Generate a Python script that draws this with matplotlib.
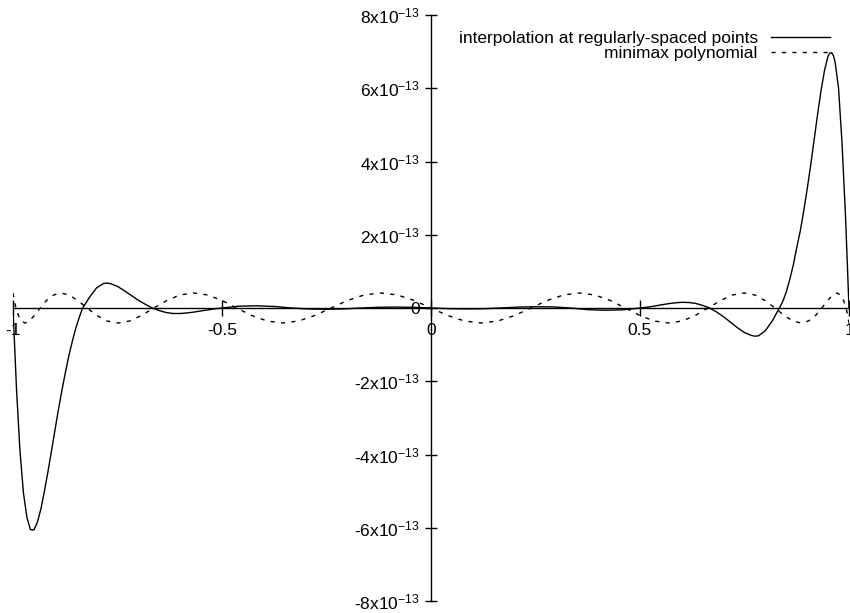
import matplotlib
matplotlib.use('Agg')
import matplotlib.pyplot as plt
import numpy as np

plt.rcParams['font.family'] = ['Liberation Sans', 'DejaVu Sans']
plt.rcParams['mathtext.fontset'] = 'custom'
plt.rcParams['mathtext.rm'] = 'Liberation Sans'
plt.rcParams['mathtext.it'] = 'Liberation Sans:italic'
plt.rcParams['mathtext.default'] = 'regular'
plt.rcParams['axes.unicode_minus'] = False

# error of interpolation at regularly-spaced points (units of 1e-13)
x_interp = [-1.0, -0.99167, -0.98333, -0.975, -0.96667, -0.95833, -0.95, -0.94167, -0.93333, -0.925,
            -0.91667, -0.90833, -0.9, -0.89167, -0.88333, -0.875, -0.86667, -0.85833, -0.85, -0.84167,
            -0.83333, -0.81667, -0.8, -0.78333, -0.775, -0.76667, -0.75, -0.73333, -0.71667, -0.7,
            -0.68333, -0.66667, -0.65, -0.63333, -0.61667, -0.6, -0.58333, -0.56667, -0.55, -0.53333,
            -0.51667, -0.5, -0.45833, -0.41667, -0.375, -0.33333, -0.29167, -0.25, -0.20833, -0.16667,
            -0.125, -0.08333, -0.04167, 0.0, 0.04167, 0.08333, 0.125, 0.16667, 0.20833, 0.25,
            0.29167, 0.33333, 0.375, 0.41667, 0.45833, 0.5, 0.51667, 0.53333, 0.55, 0.56667,
            0.58333, 0.6, 0.61667, 0.63333, 0.65, 0.66667, 0.68333, 0.7, 0.71667, 0.73333,
            0.75, 0.76667, 0.775, 0.78333, 0.8, 0.81667, 0.83333, 0.84167, 0.85, 0.85833,
            0.86667, 0.875, 0.88333, 0.89167, 0.9, 0.90833, 0.91667, 0.925, 0.93333, 0.94167,
            0.95, 0.95417, 0.95833, 0.9625, 0.96667, 0.975, 0.98333, 0.99167, 1.0]
y_interp = [0.0, -2.2, -3.9, -5.05, -5.72, -6.05, -6.06, -5.85, -5.49, -5.01,
            -4.49, -3.93, -3.36, -2.80, -2.27, -1.78, -1.32, -0.92, -0.56, -0.26,
            0.0, 0.30, 0.55, 0.67, 0.68, 0.665, 0.59, 0.47, 0.34, 0.21,
            0.10, 0.0, -0.07, -0.125, -0.15, -0.15, -0.135, -0.11, -0.08, -0.05,
            -0.022, 0.0, 0.05, 0.06, 0.042, 0.0, -0.028, -0.035, -0.025, 0.0,
            0.02, 0.025, 0.018, 0.0, -0.018, -0.025, -0.02, 0.0, 0.025, 0.035,
            0.03, 0.0, -0.045, -0.062, -0.05, 0.0, 0.022, 0.05, 0.085, 0.115,
            0.14, 0.155, 0.15, 0.125, 0.07, 0.0, -0.11, -0.24, -0.39, -0.54,
            -0.67, -0.75, -0.77, -0.76, -0.62, -0.35, 0.0, 0.18, 0.44, 0.78,
            1.17, 1.65, 2.1, 2.65, 3.25, 3.9, 4.6, 5.3, 5.95, 6.5,
            6.88, 6.96, 6.97, 6.9, 6.72, 6.0, 4.5, 2.5, 0.0]

# error of the minimax polynomial (units of 1e-13)
x_minimax = [-1.000, -0.999, -0.997, -0.993, -0.987, -0.980, -0.971, -0.961, -0.949, -0.935,
             -0.920, -0.903, -0.885, -0.866, -0.845, -0.823, -0.799, -0.775, -0.749, -0.721,
             -0.693, -0.663, -0.632, -0.601, -0.568, -0.534, -0.500, -0.465, -0.429, -0.392,
             -0.355, -0.317, -0.278, -0.239, -0.200, -0.160, -0.121, -0.080, -0.040, 0.000,
             0.040, 0.080, 0.121, 0.160, 0.200, 0.239, 0.278, 0.317, 0.355, 0.392,
             0.429, 0.465, 0.500, 0.534, 0.568, 0.601, 0.632, 0.663, 0.693, 0.721,
             0.749, 0.775, 0.799, 0.823, 0.845, 0.866, 0.885, 0.903, 0.920, 0.935,
             0.949, 0.961, 0.971, 0.980, 0.987, 0.993, 0.997, 0.999, 1.000]
y_minimax = [0.41, 0.355, 0.205, 0.0, -0.205, -0.355, -0.41, -0.355, -0.205, 0.0, 0.205, 0.355,
             0.41, 0.355, 0.205, 0.0, -0.205, -0.355, -0.41, -0.355, -0.205, 0.0, 0.205, 0.355,
             0.41, 0.355, 0.205, 0.0, -0.205, -0.355, -0.41, -0.355, -0.205, 0.0, 0.205, 0.355,
             0.41, 0.355, 0.205, 0.0, -0.205, -0.355, -0.41, -0.355, -0.205, 0.0, 0.205, 0.355,
             0.41, 0.355, 0.205, 0.0, -0.205, -0.355, -0.41, -0.355, -0.205, 0.0, 0.205, 0.355,
             0.41, 0.355, 0.205, 0.0, -0.205, -0.355, -0.41, -0.355, -0.205, 0.0, 0.205, 0.355,
             0.41, 0.355, 0.205, 0.0, -0.205, -0.355, -0.41]

xticks = [-1, -0.5, 0, 0.5, 1]
xticklabels = ['-1', '-0.5', '0', '0.5', '1']
yticks = [-8, -6, -4, -2, 0, 2, 4, 6, 8]
yticklabels = ['-8x10$^{-13}$', '-6x10$^{-13}$', '-4x10$^{-13}$', '-2x10$^{-13}$', '0',
               '2x10$^{-13}$', '4x10$^{-13}$', '6x10$^{-13}$', '8x10$^{-13}$']

fig = plt.figure(figsize=(8.5, 6.13), dpi=100)
ax = fig.add_axes([13 / 850, 12 / 613, 836 / 850, 586 / 613])

scale = 1e-13
ax.plot(x_interp, np.array(y_interp) * scale, color='black', lw=1.0,
        label='interpolation at regularly-spaced points')
ax.plot(x_minimax, np.array(y_minimax) * scale, color='black', lw=1.0,
        dashes=(3, 4.5), label='minimax polynomial')

ax.set_xlim(-1, 1)
ax.set_ylim(-8 * scale, 8 * scale)

for side in ['top', 'right']:
    ax.spines[side].set_visible(False)
ax.spines['left'].set_position('zero')
ax.spines['bottom'].set_position('zero')
ax.spines['left'].set_linewidth(1.0)
ax.spines['bottom'].set_linewidth(1.0)

ax.set_xticks(xticks)
ax.set_xticklabels(xticklabels)
ax.set_yticks(np.array(yticks) * scale)
ax.set_yticklabels(yticklabels)
ax.tick_params(axis='x', direction='inout', length=11.5, width=1.0, pad=5, labelsize=12.5)
ax.tick_params(axis='y', direction='inout', length=8, width=1.0, pad=4, labelsize=12.5)
ax.patch.set_alpha(0)

ax.legend(loc='upper right', bbox_to_anchor=(0.977, 0.973), frameon=False,
          markerfirst=False, fontsize=12.5, handlelength=3.4, handletextpad=0.75,
          labelspacing=0.02, borderpad=0, borderaxespad=0)

fig.savefig('out.png', dpi=100)
